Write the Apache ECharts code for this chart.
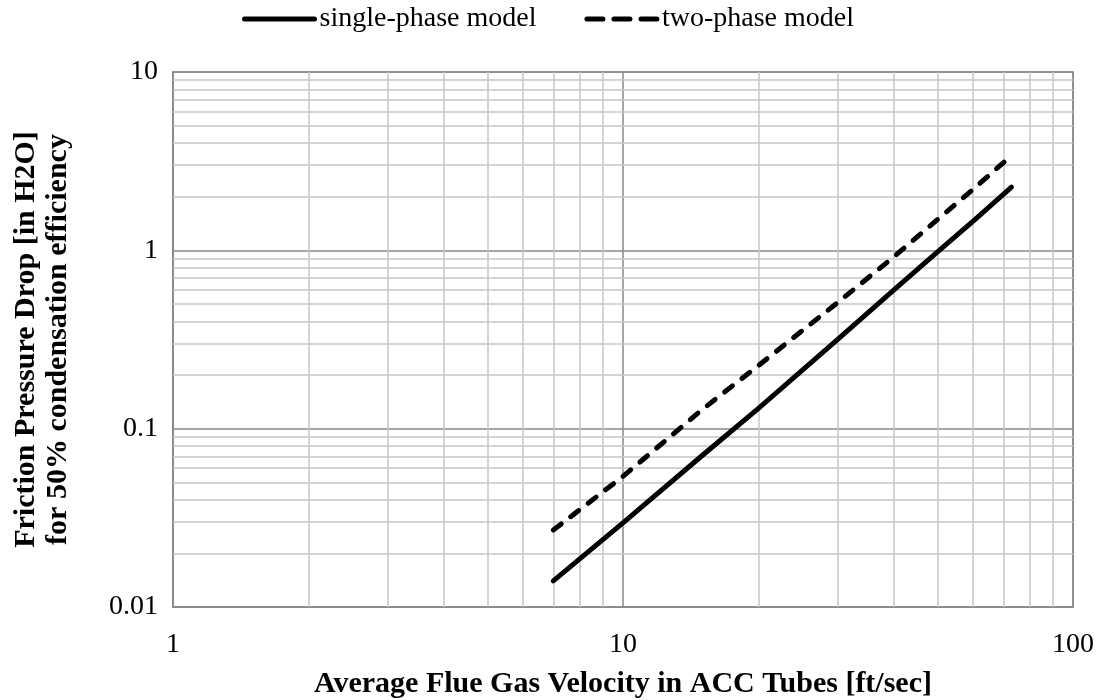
<!DOCTYPE html>
<html>
<head>
<meta charset="utf-8">
<script src="https://cdn.jsdelivr.net/npm/echarts@6/dist/echarts.min.js"></script>
<style>
html,body{margin:0;padding:0;background:#fff;}
#chart{width:1104px;height:700px;}
</style>
</head>
<body>
<div id="chart"></div>
<script>
// Data
const velocity = [7, 10, 15, 20, 30, 40, 50, 60, 73];
const singlePhase = [0.014, 0.0296, 0.0707, 0.13, 0.317, 0.60, 0.98, 1.46, 2.26];
const twoPhase = [0.027, 0.054, 0.128, 0.226, 0.51, 0.92, 1.49, 2.2, 3.4];
const seriesNames = ['single-phase model', 'two-phase model'];
const xMinorTicks = [2, 3, 4, 5, 6, 7, 8, 9, 20, 30, 40, 50, 60, 70, 80, 90];
const yMinorTicks = [0.02, 0.03, 0.04, 0.05, 0.06, 0.07, 0.08, 0.09,
                     0.2, 0.3, 0.4, 0.5, 0.6, 0.7, 0.8, 0.9,
                     2, 3, 4, 5, 6, 7, 8, 9];

const FONT = '"Liberation Serif", "Times New Roman", serif';
const chart = echarts.init(document.getElementById('chart'), null, {renderer: 'canvas'});

const minorLines = xMinorTicks.map(v => ({xAxis: v}))
  .concat(yMinorTicks.map(v => ({yAxis: v})));

chart.setOption({
  animation: false,
  backgroundColor: '#fff',
  textStyle: {fontFamily: FONT},
  legend: {
    top: 0,
    left: 237,
    itemWidth: 70,
    itemHeight: 14,
    itemGap: 48,
    itemStyle: {opacity: 0},
    lineStyle: {width: 5, cap: 'round'},
    textStyle: {fontFamily: FONT, fontSize: 28, color: '#000'},
    data: [
      {name: seriesNames[0]},
      {name: seriesNames[1], lineStyle: {width: 5, type: [16, 11], cap: 'round'}}
    ]
  },
  grid: {
    left: 173, right: 31, top: 72, bottom: 93,
    show: true, borderColor: '#898989', borderWidth: 1.5,
    containLabel: false,
    outerBoundsMode: 'none'
  },
  xAxis: {
    type: 'log', logBase: 10, min: 1, max: 100,
    name: 'Average Flue Gas Velocity in ACC Tubes [ft/sec]',
    nameLocation: 'middle', nameGap: 62,
    nameTextStyle: {fontFamily: FONT, fontSize: 30, fontWeight: 'bold', color: '#000'},
    axisLine: {show: true, lineStyle: {color: '#898989', width: 1.5}},
    axisTick: {show: false},
    axisLabel: {fontFamily: FONT, fontSize: 28, color: '#000', margin: 24,
      formatter: v => String(v)},
    splitLine: {show: true, lineStyle: {color: '#898989', width: 1.5}}
  },
  yAxis: {
    type: 'log', logBase: 10, min: 0.01, max: 10,
    name: 'Friction Pressure Drop [in H2O]\nfor 50% condensation efficiency',
    nameLocation: 'middle', nameGap: 99, nameRotate: 90,
    nameTextStyle: {fontFamily: FONT, fontSize: 30, fontWeight: 'bold', color: '#000', lineHeight: 32},
    axisLine: {show: true, lineStyle: {color: '#898989', width: 1.5}},
    axisTick: {show: false},
    axisLabel: {fontFamily: FONT, fontSize: 28, color: '#000', margin: 15,
      formatter: v => String(v)},
    splitLine: {show: true, lineStyle: {color: '#898989', width: 1.5}}
  },
  series: [
    {
      name: '_minor', type: 'line', data: [], z: 1, silent: true,
      markLine: {
        silent: true, symbol: ['none', 'none'], label: {show: false},
        lineStyle: {color: '#c6c6c6', width: 1.5, type: 'solid'},
        emphasis: {disabled: true},
        animation: false,
        data: minorLines
      }
    },
    {
      name: seriesNames[0], type: 'line', z: 5,
      data: velocity.map((v, i) => [v, singlePhase[i]]),
      showSymbol: false, symbol: 'none', smooth: false,
      lineStyle: {color: '#000', width: 5, cap: 'round', join: 'round'},
      itemStyle: {color: '#000'}
    },
    {
      name: seriesNames[1], type: 'line', z: 5,
      data: velocity.map((v, i) => [v, twoPhase[i]]),
      showSymbol: false, symbol: 'none', smooth: false,
      lineStyle: {color: '#000', width: 5, type: [10, 12], cap: 'round', join: 'round'},
      itemStyle: {color: '#000'}
    }
  ]
});
</script>
</body>
</html>
